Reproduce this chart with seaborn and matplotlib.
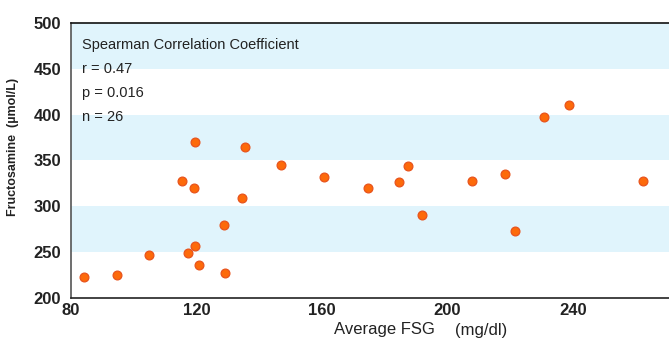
import matplotlib
matplotlib.use("Agg")
import matplotlib.pyplot as plt
import seaborn as sns
import pandas as pd

# Data
avg_fsg = [84.2, 94.7, 104.8, 115.3, 119.4, 134.5, 128.7, 119.5, 117.2, 120.7,
           129.2, 160.7, 119.6, 135.4, 146.8, 187.3, 230.6, 238.5, 174.8, 184.4,
           207.8, 218.3, 262.1, 191.9, 221.4]
fructosamine = [222.8, 224.3, 246.8, 327.5, 319.8, 308.9, 279.6, 256.7, 249.0, 235.6,
                226.5, 331.8, 369.8, 365.0, 344.6, 344.2, 397.8, 410.3, 319.5, 326.7,
                327.5, 335.1, 327.8, 290.6, 272.8]
band_starts = [250, 350, 450]
band_width = 50
x_ticks = [80, 120, 160, 200, 240]
y_ticks = [200, 250, 300, 350, 400, 450, 500]
stats_lines = ["Spearman Correlation Coefficient", "r = 0.47", "p = 0.016", "n = 26"]

sns.set_theme(style="white")
plt.rcParams['font.family'] = ['Liberation Sans', 'DejaVu Sans']

df = pd.DataFrame({"fsg": avg_fsg, "fru": fructosamine})

fig = plt.figure(figsize=(6.69, 3.40), dpi=100)
ax = fig.add_axes([0.1057, 0.125, 0.8943, 0.8065])

for b in band_starts:
    ax.axhspan(b, b + band_width, color="#e0f4fc", lw=0, zorder=0)

sns.scatterplot(data=df, x="fsg", y="fru", ax=ax, s=40, color="#fd6a0a",
                edgecolor="#e8531c", linewidth=0.9, zorder=3)

ax.set_xlim(80, 270.5)
ax.set_ylim(200, 500)
ax.set_xticks(x_ticks)
ax.set_yticks(y_ticks)
ax.tick_params(axis="both", length=0, labelsize=12, colors="#222222")
ax.tick_params(axis="x", pad=4)
ax.tick_params(axis="y", pad=7)
for lbl in ax.get_xticklabels() + ax.get_yticklabels():
    lbl.set_fontweight("bold")

for side in ["left", "bottom", "top"]:
    ax.spines[side].set_visible(True)
    ax.spines[side].set_linewidth(1.2)
ax.spines["left"].set_color("#555555")
ax.spines["bottom"].set_color("#222222")
ax.spines["top"].set_color("#111111")
ax.spines["right"].set_visible(False)

ax.set_xlabel("")
ax.set_ylabel("Fructosamine  (\u00b5mol/L)", fontsize=9, fontweight="bold", color="#222222")
ax.yaxis.set_label_coords(-0.087, 0.55)

fig.text(0.500, 0.030, "Average FSG", fontsize=12, color="#222222", ha="left", va="center")
fig.text(0.680, 0.027, "(mg/dl)", fontsize=12, color="#222222", ha="left", va="center")

y0 = 0.92
for i, line in enumerate(stats_lines):
    ax.text(0.019, y0 - i * 0.087, line, transform=ax.transAxes, fontsize=10.5,
            color="#222222", ha="left", va="center", zorder=5)

fig.savefig("out.png", dpi=100)
